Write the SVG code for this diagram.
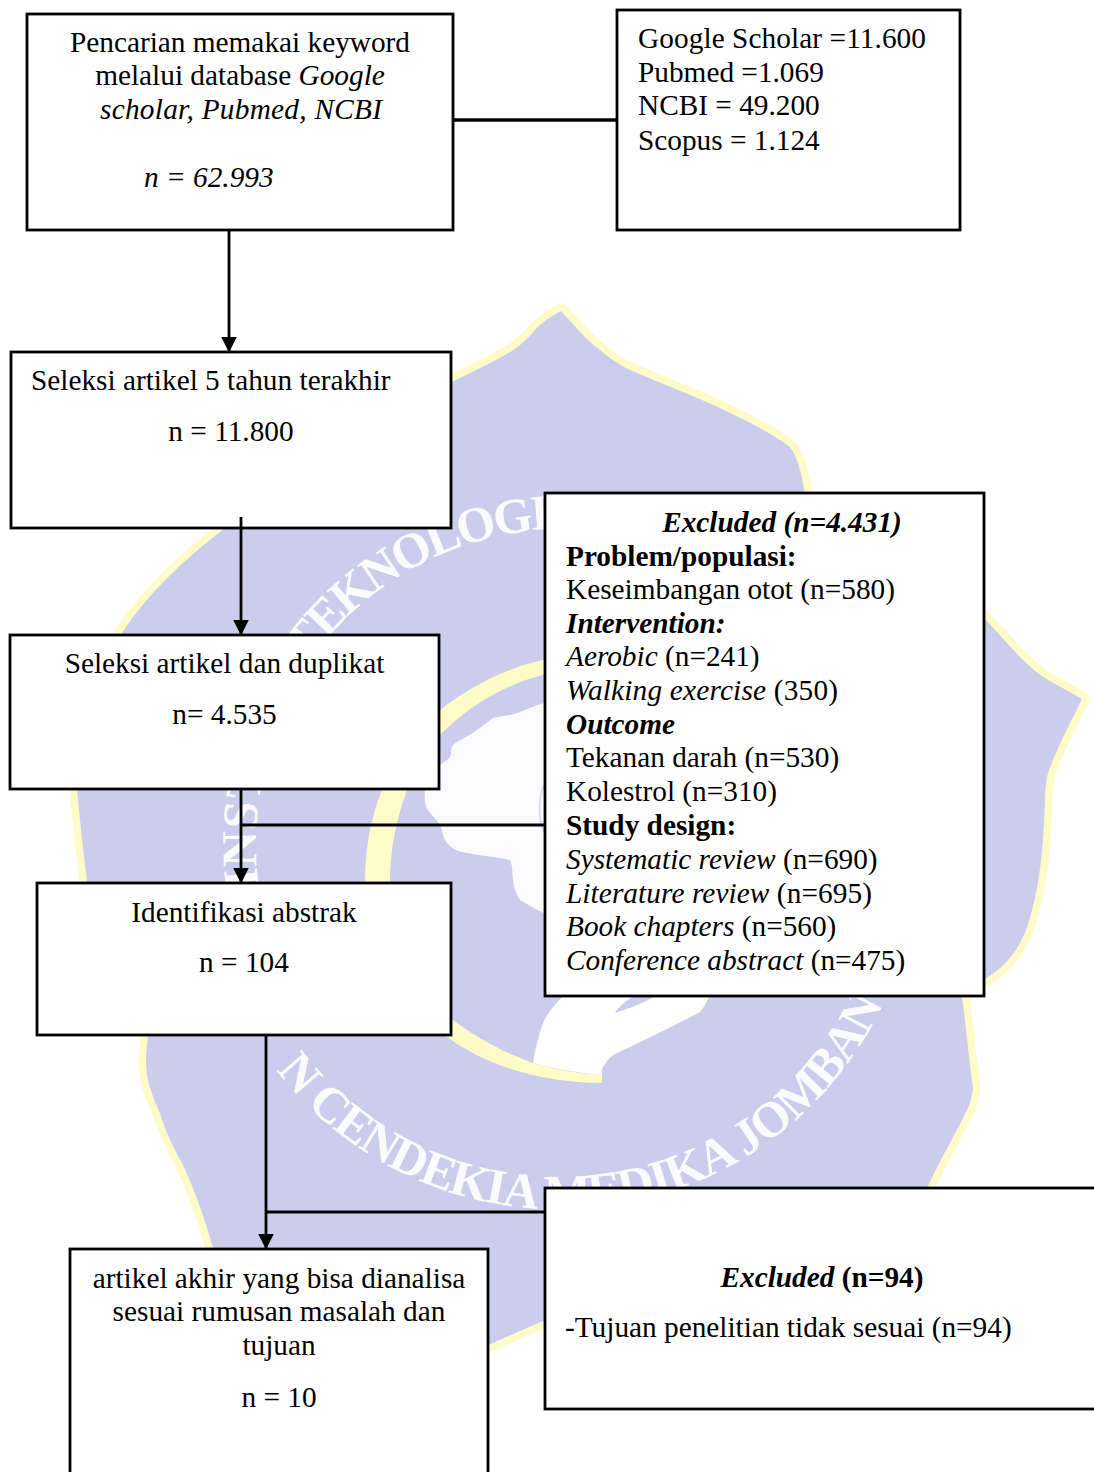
<svg xmlns="http://www.w3.org/2000/svg" width="1094" height="1472" viewBox="0 0 1094 1472">
<style>
text{font-family:"Liberation Serif","Times New Roman",serif;font-size:29.3px;fill:#000}
.c{text-anchor:middle}
.i{font-style:italic}
.b{font-weight:bold}
.bi{font-weight:bold;font-style:italic}
.box{fill:#fff;stroke:#000;stroke-width:2.8}
.ln{fill:none;stroke:#000;stroke-width:2.8}
.wm{font-size:50px;font-weight:bold;fill:#fbfbfe}
</style>
<defs>
<marker id="ah" markerUnits="userSpaceOnUse" markerWidth="16" markerHeight="17" refX="15.5" refY="8" orient="auto-start-reverse" viewBox="0 0 16 16"><path d="M0 0L16 8L0 16Z" fill="#000"/></marker>
<path id="arcN" d="M259 886A309 309 0 0 1 274 740"/>
<path id="arcT" d="M308 663A316 316 0 0 1 550 529"/>
<path id="arcB" d="M276 1070A358 358 0 0 0 885 1000"/>
</defs>
<g id="watermark">
<path d="M452 382C480 368 505 357 520 345C527 339 530 336 534 331C542 322 552 316 561 311C574 325 586 340 600 350C610 359 620 365 630 370C660 383 690 394 720 408C745 420 770 432 790 447C798 458 802 475 805 495L985 619C1005 640 1022 662 1043 677C1055 684 1070 692 1082 699C1072 720 1058 745 1048 773C1046 782 1045 790 1045 800C1044 825 1043 848 1040 869C1037 890 1033 910 1026 930C1018 950 1005 968 983 980L962 997C966 1025 969 1060 973 1088C972 1095 971 1101 968 1108C955 1135 940 1160 927 1188L543 1321L488 1345L213 1248C205 1220 195 1190 182 1163C172 1145 165 1130 160 1113C152 1095 146 1080 146 1063C146 1053 147 1045 148 1037L87 882C83 850 80 820 77 790C80 740 95 690 122 633C150 590 190 555 225 528Z" fill="#cccdec" stroke="#fdfcc8" stroke-width="15" stroke-linejoin="round" style="paint-order:stroke"/>
<path d="M560 657C515 663 470 685 438 712C412 735 394 760 382 790C370 820 365 850 365 883C366 930 395 990 447 1037C490 1068 545 1083 602 1083L602 1075C575 1073 555 1069 533 1063C505 1053 480 1040 453 1020C415 985 390 935 390 883C390 850 396 820 407 790C417 770 425 752 438 737C470 705 505 682 560 671Z" fill="#fdfcc8"/>
<path d="M560 700C545 701 530 708 520 712C510 716 500 716 493 718C487 722 482 727 477 730C468 737 458 740 453 745C450 750 452 754 450 757C447 761 443 762 440 765C432 772 426 780 425 790C424 800 425 805 428 810C432 816 437 820 440 825C443 832 443 838 447 843C453 850 460 852 467 853C482 856 497 857 510 860C513 866 512 873 513 880C514 888 516 894 520 900C530 906 540 912 560 920Z" fill="#fbfbfe"/>
<path d="M544 785C538 800 538 818 544 832" fill="none" stroke="#d6d7f4" stroke-width="1.6"/>
<path d="M570 990C558 1000 548 1012 543 1023C538 1037 535 1050 533 1063C555 1069 580 1073 602 1075C601 1072 602 1069 603 1067C606 1062 609 1058 613 1055C640 1042 670 1028 700 1012C705 1006 708 1000 712 990Z" fill="#fff"/>
<path d="M615 1013C618 1006 628 1000 637 994L658 994C645 1003 630 1008 615 1013Z" fill="#cccdec"/>
<text class="wm"><textPath href="#arcN">INST</textPath></text>
<text class="wm"><textPath href="#arcT" textLength="287">TEKNOLOGI</textPath></text>
<text class="wm"><textPath href="#arcB" textLength="732">N CENDEKIA MEDIKA JOMBAN</textPath></text>
</g>
<g id="node-search">
<rect class="box" x="27" y="14" width="426" height="216"/>
<text class="c" x="240" y="52">Pencarian memakai keyword</text>
<text class="c" x="240" y="85">melalui database <tspan class="i">Google</tspan></text>
<text class="c i" x="241" y="119" textLength="282">scholar, Pubmed, NCBI</text>
<text class="i" x="144" y="187">n = 62.993</text>
</g>
<g id="node-databases">
<rect class="box" x="617" y="10" width="343" height="220"/>
<text x="638" y="48" textLength="288">Google Scholar =11.600</text>
<text x="638" y="82">Pubmed =1.069</text>
<text x="638" y="115">NCBI = 49.200</text>
<text x="638" y="150">Scopus = 1.124</text>
</g>
<g id="node-five-years">
<rect class="box" x="11" y="352" width="440" height="176"/>
<text x="31" y="390">Seleksi artikel 5 tahun terakhir</text>
<text class="c" x="231" y="441">n = 11.800</text>
</g>
<g id="node-duplicates">
<rect class="box" x="10" y="635" width="429" height="154"/>
<text class="c" x="224.500" y="673">Seleksi artikel dan duplikat</text>
<text class="c" x="224.500" y="724">n= 4.535</text>
</g>
<g id="node-abstract">
<rect class="box" x="37" y="883" width="414" height="152"/>
<text class="c" x="244" y="922">Identifikasi abstrak</text>
<text class="c" x="244" y="972">n = 104</text>
</g>
<g id="node-excluded-1">
<rect class="box" x="545" y="493" width="439" height="503"/>
<text class="c bi" x="782" y="532">Excluded (n=4.431)</text>
<text class="b" x="566" y="566">Problem/populasi:</text>
<text x="566" y="599">Keseimbangan otot (n=580)</text>
<text class="bi" x="566" y="633">Intervention:</text>
<text x="566" y="666"><tspan class="i">Aerobic</tspan> (n=241)</text>
<text x="566" y="700" textLength="272"><tspan class="i">Walking exercise</tspan> (350)</text>
<text class="bi" x="566" y="734">Outcome</text>
<text x="566" y="767">Tekanan darah (n=530)</text>
<text x="566" y="801">Kolestrol (n=310)</text>
<text class="b" x="566" y="835">Study design:</text>
<text x="566" y="869"><tspan class="i">Systematic review</tspan> (n=690)</text>
<text x="566" y="903" textLength="306"><tspan class="i">Literature review</tspan> (n=695)</text>
<text x="566" y="936"><tspan class="i">Book chapters</tspan> (n=560)</text>
<text x="566" y="970"><tspan class="i">Conference abstract</tspan> (n=475)</text>
</g>
<g id="node-final">
<rect class="box" x="70" y="1249" width="418" height="240"/>
<text class="c" x="279" y="1288">artikel akhir yang bisa dianalisa</text>
<text class="c" x="279" y="1321">sesuai rumusan masalah dan</text>
<text class="c" x="279" y="1355">tujuan</text>
<text class="c" x="279" y="1407">n = 10</text>
</g>
<g id="node-excluded-2">
<rect class="box" x="545" y="1188" width="569" height="221"/>
<text class="c b" x="822" y="1287"><tspan class="bi">Excluded</tspan> (n=94)</text>
<text x="565" y="1337">-Tujuan penelitian tidak sesuai (n=94)</text>
</g>
<g id="connectors">
<line class="ln" x1="453" y1="120" x2="617" y2="120" style="stroke-width:3.6"/>
<line class="ln" x1="229" y1="230" x2="229" y2="352" marker-end="url(#ah)"/>
<line class="ln" x1="241" y1="517" x2="241" y2="635" marker-end="url(#ah)"/>
<line class="ln" x1="241" y1="789" x2="241" y2="883" marker-end="url(#ah)"/>
<line class="ln" x1="241" y1="825" x2="545" y2="825"/>
<line class="ln" x1="266" y1="1035" x2="266" y2="1249" marker-end="url(#ah)"/>
<line class="ln" x1="266" y1="1212" x2="545" y2="1212"/>
</g>
</svg>
